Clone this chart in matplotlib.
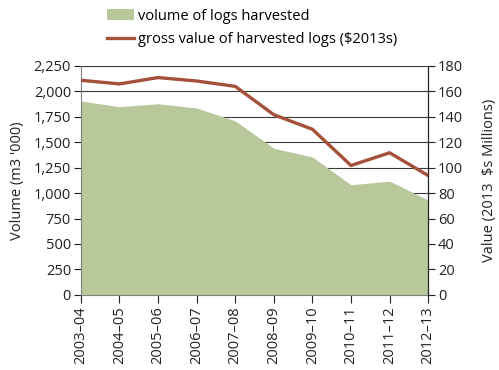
import matplotlib
matplotlib.use('Agg')
import matplotlib.pyplot as plt
import numpy as np
from matplotlib.ticker import FuncFormatter

plt.rcParams['font.family'] = ['Open Sans', 'DejaVu Sans']

years = ['2003\u201304', '2004\u201305', '2005\u201306', '2006\u201307', '2007\u201308',
         '2008\u201309', '2009\u201310', '2010\u201311', '2011\u201312', '2012\u201313']
volume = [1905, 1849, 1878, 1836, 1710, 1441, 1355, 1082, 1118, 931]
value = [168.7, 165.8, 170.8, 168.1, 163.9, 141.6, 130.2, 101.7, 111.7, 93.8]

area_col = '#b9c89a'
line_col = '#a5503a'
fs = 10.5

fig = plt.figure(figsize=(4.99, 3.70), dpi=100)
ax = fig.add_axes([0.162, 0.203, 0.696, 0.619])
ax2 = ax.twinx()

x = np.arange(len(years))

# gridlines from the right axis ticks, drawn under the area
for v in range(20, 181, 20):
    ax.axhline(v / 180 * 2250, color='#3a3a3a', lw=0.8, zorder=1)

ax.fill_between(x, volume, 0, color=area_col, lw=0, zorder=2, label='volume of logs harvested')
ax2.plot(x, value, color=line_col, lw=2.4, label='gross value of harvested logs ($2013s)')

ax.set_xlim(0, len(years) - 1)
ax.set_ylim(0, 2250)
ax.set_yticks(np.arange(0, 2251, 250))
ax.yaxis.set_major_formatter(FuncFormatter(lambda v, p: f'{int(v):,}'))
ax2.set_ylim(0, 180)
ax2.set_yticks(np.arange(0, 181, 20))

ax.set_xticks(x)
ax.set_xticklabels(years, rotation=90, fontsize=fs, color='#222222')
ax.tick_params(axis='y', labelsize=fs, colors='#222222', length=5, width=0.8, pad=2)
ax.tick_params(axis='x', length=6, width=0.8, colors='#222222', pad=2)
ax2.tick_params(axis='y', labelsize=fs, colors='#222222', length=5, width=0.8, pad=2)
for t in ax.get_xticklines() + ax.get_yticklines():
    t.set_color('#808080')

for a in (ax, ax2):
    a.spines['top'].set_visible(False)
ax.spines['left'].set_color('#808080')
ax.spines['bottom'].set_color('#808080')
ax2.spines['left'].set_visible(False)
ax2.spines['bottom'].set_visible(False)
ax2.spines['right'].set_color('#222222')
ax2.spines['right'].set_linewidth(0.8)
ax.set_zorder(ax2.get_zorder() - 1)
ax2.patch.set_visible(False)

ax.set_ylabel("Volume (m3 '000)", fontsize=fs, color='#222222', labelpad=6)
ax2.set_ylabel('Value (2013  $s Millions)', fontsize=fs, color='#222222', labelpad=14)

h1, l1 = ax.get_legend_handles_labels()
h2, l2 = ax2.get_legend_handles_labels()
fig.legend(h1 + h2, l1 + l2, loc='upper left', bbox_to_anchor=(0.214, 0.977),
           frameon=False, fontsize=fs, handlelength=1.9, handletextpad=0.25,
           labelspacing=0.58, borderpad=0, borderaxespad=0)

plt.savefig('out.png', dpi=100)
